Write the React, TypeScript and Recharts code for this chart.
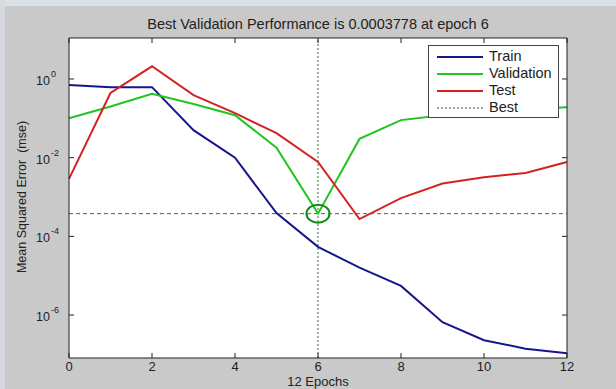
import React from 'react';
import {
  LineChart,
  Line,
  XAxis,
  YAxis,
  CartesianGrid,
  ReferenceLine,
  ReferenceDot,
} from 'recharts';

// Values
const epochs = [0, 1, 2, 3, 4, 5, 6, 7, 8, 9, 10, 11, 12];
const trainMse = [0.7, 0.62, 0.62, 0.05, 0.01, 3.9e-4, 5.4e-5, 1.6e-5, 5.5e-6, 6.6e-7, 2.3e-7, 1.4e-7, 1.07e-7];
const validationMse = [0.1, 0.2, 0.42, 0.23, 0.12, 0.018, 3.778e-4, 0.03, 0.09, 0.12, 0.15, 0.17, 0.19];
const testMse = [0.0029, 0.44, 2.1, 0.39, 0.135, 0.042, 0.0078, 2.75e-4, 9.4e-4, 2.2e-3, 3.2e-3, 4.1e-3, 7.8e-3];

const xTicks = [0, 2, 4, 6, 8, 10, 12];
const yTicks = [1, 1e-2, 1e-4, 1e-6];
const yDomain = [8.1e-8, 11];

const bestEpoch = 6;
const bestPerf = 0.0003778;

const legendItems = [
  { name: 'Train', color: '#16168c', dash: undefined },
  { name: 'Validation', color: '#22c422', dash: undefined },
  { name: 'Test', color: '#d42222', dash: undefined },
  { name: 'Best', color: '#444', dash: '2 2' },
];

const data = epochs.map((e, i) => ({
  epoch: e,
  train: trainMse[i],
  validation: validationMse[i],
  test: testMse[i],
}));

const FONT = '"Liberation Sans", Arial, sans-serif';
const TEXT = '#222';

function BottomTick(props: any) {
  const { x, y, payload } = props;
  return (
    <g>
      <line x1={x} y1={y} x2={x} y2={y - 5} stroke="#222" />
      <text x={x} y={y + 13} textAnchor="middle" fontSize={13} fontFamily={FONT} fill={TEXT}>
        {payload.value}
      </text>
    </g>
  );
}

function TopTick(props: any) {
  const { x, y } = props;
  return <line x1={x} y1={y} x2={x} y2={y + 5} stroke="#222" />;
}

function LeftTick(props: any) {
  const { x, y, payload } = props;
  const exp = Math.round(Math.log10(payload.value));
  return (
    <g>
      <line x1={x} y1={y} x2={x + 5} y2={y} stroke="#222" />
      <text x={x - 19} y={y + 6} textAnchor="end" fontSize={12.5} fontFamily={FONT} fill={TEXT}>
        10
      </text>
      <text x={x - 18} y={y - 2} textAnchor="start" fontSize={9} fontFamily={FONT} fill={TEXT}>
        {exp}
      </text>
    </g>
  );
}

function RightTick(props: any) {
  const { x, y } = props;
  return <line x1={x} y1={y} x2={x - 5} y2={y} stroke="#222" />;
}

export default function App() {
  return (
    <div
      style={{
        position: 'absolute',
        left: 0,
        top: 0,
        width: 616,
        height: 389,
        background: '#c9c9c9',
        overflow: 'hidden',
      }}
    >
      <div style={{ position: 'absolute', left: 0, top: 0, width: 616, height: 6, background: '#dce1e7' }} />
      <div style={{ position: 'absolute', left: 0, top: 0, width: 5, height: 389, background: '#d6dade' }} />
      <LineChart
        width={616}
        height={389}
        data={data}
        margin={{ top: 0, right: 0, bottom: 0, left: 0 }}
        style={{ position: 'absolute', left: 0, top: 0 }}
      >
        <CartesianGrid fill="#ffffff" fillOpacity={1} stroke="none" horizontal={false} vertical={false} />
        <XAxis
          dataKey="epoch"
          type="number"
          domain={[0, 12]}
          ticks={xTicks}
          interval={0}
          height={31}
          tickSize={0}
          tickMargin={0}
          tick={<BottomTick />}
          axisLine={{ stroke: '#222' }}
          label={{
            content: (p: any) => (
              <text
                x={p.viewBox.x + p.viewBox.width / 2}
                y={p.viewBox.y + 28}
                textAnchor="middle"
                fontSize={13}
                fontFamily={FONT}
                fill={TEXT}
              >
                12 Epochs
              </text>
            ),
          }}
        />
        <XAxis
          xAxisId="top"
          orientation="top"
          dataKey="epoch"
          type="number"
          domain={[0, 12]}
          ticks={xTicks}
          interval={0}
          height={38}
          tickSize={0}
          tickMargin={0}
          tick={<TopTick />}
          axisLine={{ stroke: '#222' }}
          label={{
            content: (p: any) => (
              <text
                x={p.viewBox.x + p.viewBox.width / 2}
                y={29}
                textAnchor="middle"
                fontSize={14.5}
                fontFamily={FONT}
                fill={TEXT}
              >
                Best Validation Performance is 0.0003778 at epoch 6
              </text>
            ),
          }}
        />
        <YAxis
          scale="log"
          type="number"
          domain={yDomain}
          allowDataOverflow
          ticks={yTicks}
          interval={0}
          width={69}
          tickSize={0}
          tickMargin={0}
          tick={<LeftTick />}
          axisLine={{ stroke: '#222' }}
          label={{
            content: () => {
              const cy = 197;
              return (
                <text
                  x={22}
                  y={cy}
                  transform={`rotate(-90, 22, ${cy})`}
                  textAnchor="middle"
                  dominantBaseline="central"
                  fontSize={12.5}
                  fontFamily={FONT}
                  fill={TEXT}
                  style={{ whiteSpace: 'pre' }}
                >
                  {'Mean Squared Error  (mse)'}
                </text>
              );
            },
          }}
        />
        <YAxis
          yAxisId="right"
          orientation="right"
          scale="log"
          type="number"
          domain={yDomain}
          allowDataOverflow
          ticks={yTicks}
          interval={0}
          width={49}
          tickSize={0}
          tickMargin={0}
          tick={<RightTick />}
          axisLine={{ stroke: '#222' }}
        />
        <ReferenceLine x={bestEpoch} stroke="#3f6f3f" strokeDasharray="2 2" />
        <ReferenceLine y={bestPerf} stroke="#4a6a4a" strokeDasharray="4 3" />
        <Line dataKey="train" stroke="#16168c" strokeWidth={2} dot={false} isAnimationActive={false} />
        <Line dataKey="validation" stroke="#22c422" strokeWidth={2} dot={false} isAnimationActive={false} />
        <Line dataKey="test" stroke="#d42222" strokeWidth={2} dot={false} isAnimationActive={false} />
        <Line
          xAxisId="top"
          yAxisId="right"
          dataKey="train"
          stroke="none"
          dot={false}
          activeDot={false}
          isAnimationActive={false}
        />
        <ReferenceDot
          x={bestEpoch}
          y={bestPerf}
          shape={(p: any) => (
            <ellipse cx={p.cx} cy={p.cy} rx={11.5} ry={9} fill="none" stroke="#118a11" strokeWidth={2} />
          )}
        />
      </LineChart>
      <div
        style={{
          position: 'absolute',
          left: 428,
          top: 45,
          width: 131,
          height: 73,
          background: '#fff',
          border: '1px solid #444',
          fontFamily: FONT,
          fontSize: 14.5,
          color: TEXT,
          boxSizing: 'border-box',
          paddingTop: 2,
          lineHeight: '17px',
        }}
      >
        {legendItems.map((it) => (
          <div key={it.name} style={{ display: 'flex', alignItems: 'center', height: 17 }}>
            <svg width={60} height={17} style={{ flex: 'none' }}>
              <line
                x1={8}
                x2={54}
                y1={9}
                y2={9}
                stroke={it.color}
                strokeWidth={it.dash ? 1 : 2}
                strokeDasharray={it.dash}
              />
            </svg>
            <span>{it.name}</span>
          </div>
        ))}
      </div>
    </div>
  );
}
